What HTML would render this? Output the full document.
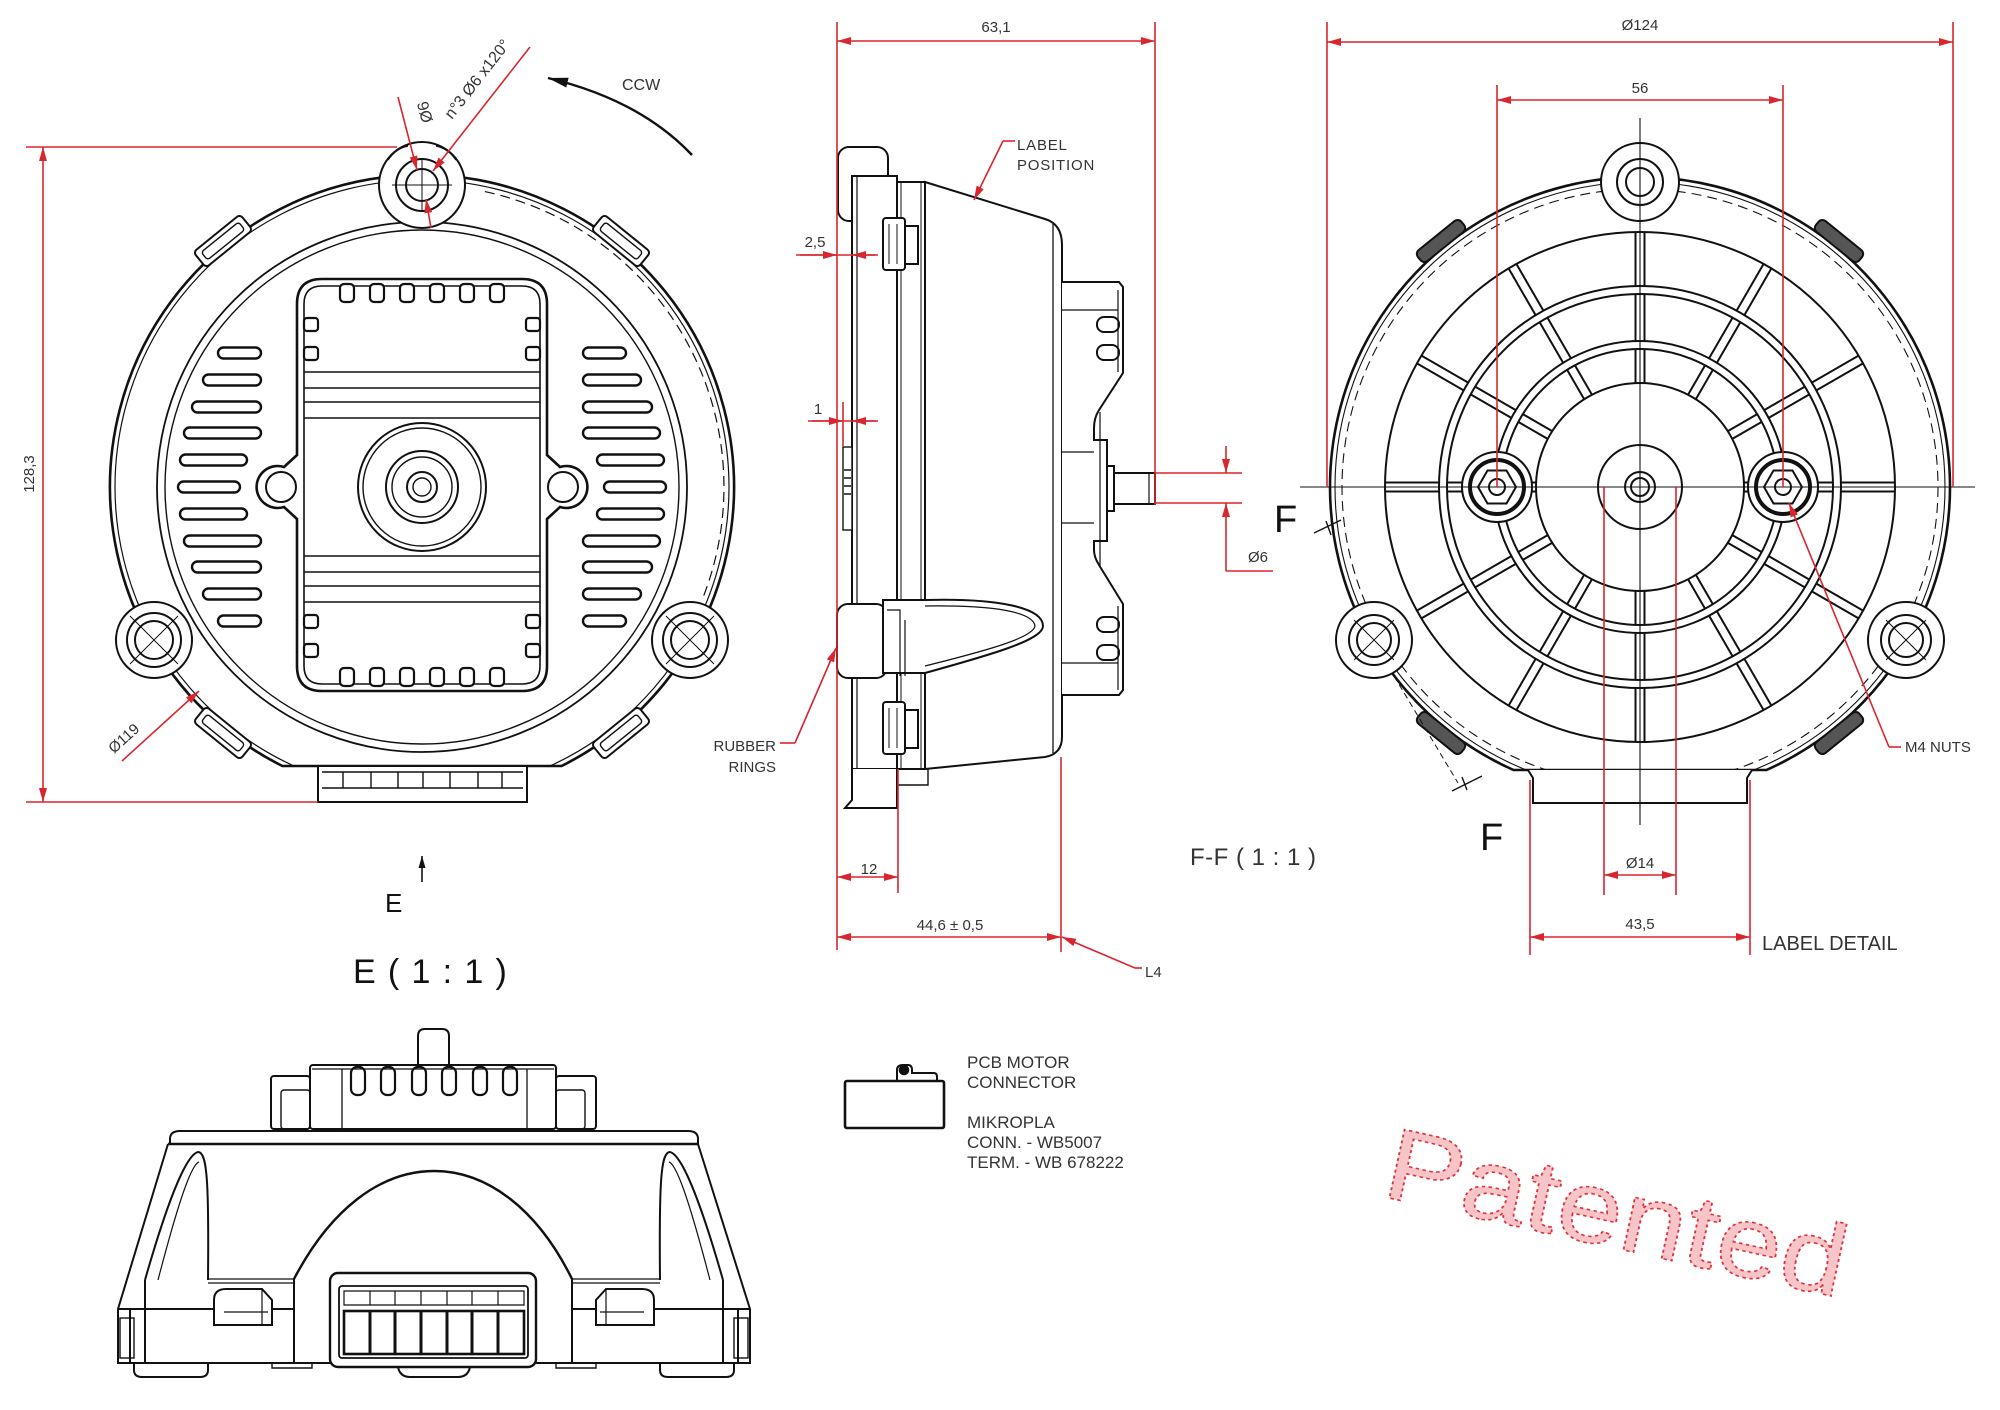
<!DOCTYPE html>
<html><head><meta charset="utf-8"><style>
html,body{margin:0;padding:0;background:#fff;}
svg{display:block;}
text{font-family:"Liberation Sans",Arial,sans-serif;fill:#333;}
</style></head><body>
<svg width="2000" height="1410" viewBox="0 0 2000 1410" xmlns="http://www.w3.org/2000/svg">
<defs>
<marker id="ar" viewBox="0 0 14 8" refX="14" refY="4" markerWidth="14" markerHeight="8" markerUnits="userSpaceOnUse" orient="auto-start-reverse"><path d="M0 0L14 4L0 8Z" fill="#d8262e"/></marker>
<marker id="ab" viewBox="0 0 20 10" refX="20" refY="5" markerWidth="20" markerHeight="10" markerUnits="userSpaceOnUse" orient="auto"><path d="M0 0L20 5L0 10Z" fill="#111"/></marker>
<marker id="ab2" viewBox="0 0 12 7" refX="12" refY="3.5" markerWidth="12" markerHeight="7" markerUnits="userSpaceOnUse" orient="auto"><path d="M0 0L12 3.5L0 7Z" fill="#111"/></marker>
<g id="spk" stroke="#111" stroke-width="2" fill="none">
<path d="M104 -4.5H138M104 4.5H138M146 -4.5H193M146 4.5H193M201 -4.5H255M201 4.5H255"/>
</g>
</defs>
<rect width="2000" height="1410" fill="#fff"/>

<!-- ================= FRONT VIEW ================= -->
<g stroke="#111" fill="none" stroke-width="2">
<path d="M282.4 766 A312 312 0 1 1 561.6 766 Z" fill="#fff" stroke-width="2.6"/>
<path d="M294 766 A307 307 0 1 1 550 766" stroke-width="1.2"/>
<path d="M484.8 191.6 A302 302 0 0 1 702 600" stroke-width="1.2" stroke-dasharray="10 6"/>
<circle cx="422" cy="487" r="265" stroke-width="1.8"/>
<circle cx="422" cy="487" r="257" stroke-width="1.4"/>
<rect x="318" y="766" width="209" height="36" fill="#fff"/>
<path d="M322 772H523M322 788H523M343 772V788M371 772V788M398 772V788M423 772V788M450 772V788M478 772V788M502 772V788" stroke-width="1.4"/>
<g transform="translate(223,241) rotate(-39)"><rect x="-30" y="-10" width="60" height="20" rx="4" fill="#fff"/><rect x="-24" y="-5" width="48" height="10" rx="3" stroke-width="1.4"/></g>
<g transform="translate(621,241) rotate(39)"><rect x="-30" y="-10" width="60" height="20" rx="4" fill="#fff"/><rect x="-24" y="-5" width="48" height="10" rx="3" stroke-width="1.4"/></g>
<g transform="translate(223,733) rotate(39)"><rect x="-30" y="-10" width="60" height="20" rx="4" fill="#fff"/><rect x="-24" y="-5" width="48" height="10" rx="3" stroke-width="1.4"/></g>
<g transform="translate(621,733) rotate(-39)"><rect x="-30" y="-10" width="60" height="20" rx="4" fill="#fff"/><rect x="-24" y="-5" width="48" height="10" rx="3" stroke-width="1.4"/></g>
<circle cx="422" cy="185" r="43" fill="#fff"/>
<path d="M388 160 Q396 148 408 146M456 160 Q448 148 436 146" stroke-width="1.4"/>
<circle cx="422" cy="185" r="26"/>
<circle cx="422" cy="185" r="16"/>
<path d="M392 185H452M422 160V212" stroke-width="1"/>
<circle cx="154" cy="640" r="38" fill="#fff"/>
<circle cx="154" cy="640" r="27"/>
<circle cx="154" cy="640" r="19"/>
<path d="M130 616L178 664M178 616L130 664" stroke-width="1"/>
<circle cx="690" cy="640" r="38" fill="#fff"/>
<circle cx="690" cy="640" r="27"/>
<circle cx="690" cy="640" r="19"/>
<path d="M666 616L714 664M714 616L666 664" stroke-width="1"/>
<path d="M322 279H522Q547 279 547 304V455L560 467A21 21 0 1 1 560 507L547 519V666Q547 691 522 691H322Q297 691 297 666V519L284 507A21 21 0 1 1 284 467L297 455V304Q297 279 322 279Z" stroke-width="2.6"/>
<path d="M322 286H522Q540 286 540 304V666Q540 684 522 684H322Q304 684 304 666V304Q304 286 322 286Z" stroke-width="1.6"/>
<circle cx="281" cy="487" r="15"/>
<circle cx="563" cy="487" r="15"/>
<g stroke-width="2.2" fill="#fff">
<rect x="340" y="284" width="14" height="18" rx="4"/><rect x="370" y="284" width="14" height="18" rx="4"/><rect x="400" y="284" width="14" height="18" rx="4"/><rect x="430" y="284" width="14" height="18" rx="4"/><rect x="460" y="284" width="14" height="18" rx="4"/><rect x="490" y="284" width="14" height="18" rx="4"/>
<rect x="340" y="668" width="14" height="18" rx="4"/><rect x="370" y="668" width="14" height="18" rx="4"/><rect x="400" y="668" width="14" height="18" rx="4"/><rect x="430" y="668" width="14" height="18" rx="4"/><rect x="460" y="668" width="14" height="18" rx="4"/><rect x="490" y="668" width="14" height="18" rx="4"/>
<rect x="304" y="318" width="14" height="13" rx="3"/><rect x="304" y="347" width="14" height="13" rx="3"/><rect x="304" y="615" width="14" height="13" rx="3"/><rect x="304" y="644" width="14" height="13" rx="3"/>
<rect x="526" y="318" width="14" height="13" rx="3"/><rect x="526" y="347" width="14" height="13" rx="3"/><rect x="526" y="615" width="14" height="13" rx="3"/><rect x="526" y="644" width="14" height="13" rx="3"/>
</g>
<path d="M304 372H540M304 388H540M304 402H540M304 418H540M304 556H540M304 572H540M304 586H540M304 602H540" stroke-width="1.4"/>
<circle cx="422" cy="487" r="64"/>
<circle cx="422" cy="487" r="59" stroke-width="1.4"/>
<circle cx="422" cy="487" r="36"/>
<circle cx="422" cy="487" r="30" stroke-width="1.4"/>
<circle cx="422" cy="487" r="15"/>
<circle cx="422" cy="487" r="9" stroke-width="1.4"/>
<g stroke-width="2.4">
<rect x="218" y="347.5" width="43" height="11" rx="5.5"/><rect x="203" y="374.5" width="58" height="11" rx="5.5"/><rect x="192" y="401.5" width="69" height="11" rx="5.5"/><rect x="184" y="427.5" width="77" height="11" rx="5.5"/><rect x="180" y="454.5" width="67" height="11" rx="5.5"/><rect x="178" y="481.5" width="62" height="11" rx="5.5"/><rect x="180" y="508.5" width="67" height="11" rx="5.5"/><rect x="184" y="535.5" width="77" height="11" rx="5.5"/><rect x="192" y="561.5" width="69" height="11" rx="5.5"/><rect x="203" y="588.5" width="58" height="11" rx="5.5"/><rect x="218" y="615.5" width="43" height="11" rx="5.5"/>
<rect x="583" y="347.5" width="43" height="11" rx="5.5"/><rect x="583" y="374.5" width="58" height="11" rx="5.5"/><rect x="583" y="401.5" width="69" height="11" rx="5.5"/><rect x="583" y="427.5" width="77" height="11" rx="5.5"/><rect x="597" y="454.5" width="67" height="11" rx="5.5"/><rect x="604" y="481.5" width="62" height="11" rx="5.5"/><rect x="597" y="508.5" width="67" height="11" rx="5.5"/><rect x="583" y="535.5" width="77" height="11" rx="5.5"/><rect x="583" y="561.5" width="69" height="11" rx="5.5"/><rect x="583" y="588.5" width="58" height="11" rx="5.5"/><rect x="583" y="615.5" width="43" height="11" rx="5.5"/>
</g>
<path d="M692 155 Q640 100 548 78" stroke-width="2.4" marker-end="url(#ab)"/>
<path d="M422 882V856" stroke-width="1.6" marker-end="url(#ab2)"/>
</g>
<g stroke="#d8262e" stroke-width="1.6" fill="none">
<path d="M26 147H397M26 802H318"/>
<line x1="43" y1="147" x2="43" y2="802" marker-start="url(#ar)" marker-end="url(#ar)"/>
<line x1="122" y1="761" x2="199" y2="691" marker-end="url(#ar)"/>
<line x1="398" y1="97" x2="417" y2="170" marker-end="url(#ar)"/>
<line x1="530" y1="47" x2="433" y2="171" marker-end="url(#ar)"/>
<line x1="431" y1="228" x2="426" y2="199" marker-end="url(#ar)"/>
</g>
<text x="0" y="0" font-size="15" text-anchor="middle" transform="translate(34,474) rotate(-90)">128,3</text>
<text x="0" y="0" font-size="15" transform="translate(114,754) rotate(-42)">Ø119</text>
<text x="0" y="0" font-size="16" transform="translate(433,121) rotate(-105)">Ø6</text>
<text x="0" y="0" font-size="16" transform="translate(452,120) rotate(-52)">n°3 Ø6 x120°</text>
<text x="622" y="90" font-size="16">CCW</text>
<text x="385" y="912" font-size="26" style="fill:#111">E</text>
<text x="353" y="983" font-size="34" letter-spacing="1.4" style="fill:#111">E ( 1 : 1 )</text>

<!-- ================= SIDE VIEW ================= -->
<g stroke="#111" fill="none" stroke-width="2">
<rect x="838" y="147" width="50" height="74" rx="11" fill="#fff"/>
<rect x="852" y="176" width="45" height="593" fill="#fff"/>
<path d="M857 176V769" stroke-width="1.2"/>
<rect x="897" y="182" width="28" height="587" fill="#fff"/>
<path d="M901 182V769M921 182V769" stroke-width="1"/>
<path d="M925 182L1045 219Q1062 224 1062 245V737Q1062 754 1045 757L925 769Z" fill="#fff"/>
<path d="M1053 224V753" stroke-width="1.3"/>
<path d="M1062 282H1119L1123 287V373L1099 410Q1094 418 1094 428V440H1107V541H1094V550Q1094 557 1099 565L1123 604V690L1119 695H1062" fill="#fff"/>
<path d="M1118 290V372M1118 606V690M1062 310H1118M1062 663H1118M1062 452H1094M1062 523H1094M1100 412V566" stroke-width="1.2"/>
<rect x="1097" y="317" width="22" height="15" rx="7"/><rect x="1097" y="345" width="22" height="15" rx="7"/>
<rect x="1097" y="617" width="22" height="15" rx="7"/><rect x="1097" y="645" width="22" height="15" rx="7"/>
<rect x="1107" y="466" width="7" height="45" fill="#fff"/>
<rect x="1114" y="473" width="41" height="31" fill="#fff"/>
<path d="M1149 473V504" stroke-width="1.2"/>
<rect x="837" y="604" width="50" height="74" rx="11" fill="#fff"/>
<path d="M883 600H925C1000 598 1043 608 1043 626C1043 640 990 655 925 673H883Z" fill="#fff"/>
<path d="M925 606C995 605 1033 612 1035 626C1033 638 985 651 925 666" stroke-width="1.2"/>
<path d="M887 610H900V676M905 620V676" stroke-width="1.2"/>
<rect x="883" y="218" width="22" height="52" rx="3" fill="#fff"/><rect x="905" y="226" width="13" height="38" fill="#fff"/>
<path d="M889 224V264M897 224V264" stroke-width="1"/>
<rect x="883" y="702" width="22" height="52" rx="3" fill="#fff"/><rect x="905" y="710" width="13" height="38" fill="#fff"/>
<path d="M889 708V748M897 708V748" stroke-width="1"/>
<path d="M852 769V800L845 808H897V769" fill="#fff"/>
<path d="M897 769H928V785H897" stroke-width="1.4"/>
<rect x="843" y="447" width="9" height="83" fill="#fff" stroke-width="1.4"/>
<path d="M844 470H851M844 478H851M844 486H851M844 494H851" stroke-width="1.5"/>
</g>
<g stroke="#d8262e" stroke-width="1.6" fill="none">
<path d="M837 22V950M1155 22V505M898 769V893M1061 757V952M1155 473H1242M1155 503H1242"/>
<line x1="837" y1="41" x2="1155" y2="41" marker-start="url(#ar)" marker-end="url(#ar)"/>
<path d="M796 255H878"/>
<line x1="800" y1="255" x2="837" y2="255" marker-end="url(#ar)"/>
<line x1="875" y1="255" x2="852" y2="255" marker-end="url(#ar)"/>
<path d="M808 421H878M843 402V446"/>
<line x1="812" y1="421" x2="843" y2="421" marker-end="url(#ar)"/>
<line x1="876" y1="421" x2="852" y2="421" marker-end="url(#ar)"/>
<line x1="1226" y1="446" x2="1226" y2="473" marker-end="url(#ar)"/>
<line x1="1226" y1="571" x2="1226" y2="503" marker-end="url(#ar)"/>
<path d="M1226 571H1273"/>
<line x1="837" y1="877" x2="898" y2="877" marker-start="url(#ar)" marker-end="url(#ar)"/>
<line x1="837" y1="937" x2="1061" y2="937" marker-start="url(#ar)" marker-end="url(#ar)"/>
<path d="M1135 968H1142"/>
<line x1="1135" y1="968" x2="1062" y2="937" marker-end="url(#ar)"/>
<path d="M1015 141H1003"/>
<line x1="1003" y1="141" x2="974" y2="200" marker-end="url(#ar)"/>
<path d="M780 743H795"/>
<line x1="795" y1="743" x2="836" y2="648" marker-end="url(#ar)"/>
</g>
<text x="996" y="32" font-size="15" text-anchor="middle">63,1</text>
<text x="815" y="247" font-size="15" text-anchor="middle">2,5</text>
<text x="818" y="414" font-size="15" text-anchor="middle">1</text>
<text x="1258" y="562" font-size="15" text-anchor="middle">Ø6</text>
<text x="869" y="874" font-size="15" text-anchor="middle">12</text>
<text x="950" y="930" font-size="15" text-anchor="middle">44,6 ± 0,5</text>
<text x="1145" y="977" font-size="15">L4</text>
<text x="1017" y="150" font-size="15" letter-spacing="0.8">LABEL</text>
<text x="1017" y="170" font-size="15" letter-spacing="0.8">POSITION</text>
<text x="776" y="751" font-size="15" text-anchor="end">RUBBER</text>
<text x="776" y="772" font-size="15" text-anchor="end">RINGS</text>
<text x="1190" y="865" font-size="24" letter-spacing="0.5">F-F ( 1 : 1 )</text>
<text x="1274" y="532" font-size="38" style="fill:#111">F</text>
<text x="1480" y="850" font-size="38" style="fill:#111">F</text>

<!-- ================= REAR VIEW ================= -->
<g stroke="#111" fill="none" stroke-width="2">
<path d="M1513.5 770A310 310 0 1 1 1766.5 770Z" fill="#fff" stroke-width="2.6"/>
<circle cx="1640" cy="487" r="305" stroke-width="1.1"/>
<circle cx="1640" cy="487" r="298" stroke-width="1.1" stroke-dasharray="10 6"/>
<path d="M1528 770L1533 778V803H1747V778L1752 770" fill="#fff"/>
<circle cx="1640" cy="487" r="255"/>
<circle cx="1640" cy="487" r="201"/>
<circle cx="1640" cy="487" r="193"/>
<circle cx="1640" cy="487" r="146"/>
<circle cx="1640" cy="487" r="138"/>
<circle cx="1640" cy="487" r="104"/>
<g transform="translate(1640,487)">
<use href="#spk"/>
<use href="#spk" transform="rotate(30)"/>
<use href="#spk" transform="rotate(60)"/>
<use href="#spk" transform="rotate(90)"/>
<use href="#spk" transform="rotate(120)"/>
<use href="#spk" transform="rotate(150)"/>
<use href="#spk" transform="rotate(180)"/>
<use href="#spk" transform="rotate(210)"/>
<use href="#spk" transform="rotate(240)"/>
<use href="#spk" transform="rotate(270)"/>
<use href="#spk" transform="rotate(300)"/>
<use href="#spk" transform="rotate(330)"/>
</g>
<g transform="translate(1441,241) rotate(-39)"><rect x="-28" y="-7" width="56" height="14" rx="5" fill="#555"/></g>
<g transform="translate(1839,241) rotate(39)"><rect x="-28" y="-7" width="56" height="14" rx="5" fill="#555"/></g>
<g transform="translate(1441,733) rotate(39)"><rect x="-28" y="-7" width="56" height="14" rx="5" fill="#555"/></g>
<g transform="translate(1839,733) rotate(-39)"><rect x="-28" y="-7" width="56" height="14" rx="5" fill="#555"/></g>
<circle cx="1640" cy="182" r="39" fill="#fff"/>
<circle cx="1640" cy="182" r="23"/>
<circle cx="1640" cy="182" r="14"/>
<circle cx="1374" cy="640" r="38" fill="#fff"/>
<circle cx="1374" cy="640" r="25"/>
<circle cx="1374" cy="640" r="17"/>
<path d="M1354 620L1394 660M1394 620L1354 660" stroke-width="1"/>
<circle cx="1906" cy="640" r="38" fill="#fff"/>
<circle cx="1906" cy="640" r="25"/>
<circle cx="1906" cy="640" r="17"/>
<path d="M1886 620L1926 660M1926 620L1886 660" stroke-width="1"/>
<circle cx="1497" cy="487" r="35" fill="#fff"/>
<circle cx="1497" cy="487" r="27" stroke-width="4"/>
<path d="M1478 487L1487.5 470.5H1506.5L1516 487L1506.5 503.5H1487.5Z"/>
<circle cx="1497" cy="487" r="8"/>
<circle cx="1783" cy="487" r="35" fill="#fff"/>
<circle cx="1783" cy="487" r="27" stroke-width="4"/>
<path d="M1764 487L1773.5 470.5H1792.5L1802 487L1792.5 503.5H1773.5Z"/>
<circle cx="1783" cy="487" r="8"/>
<circle cx="1640" cy="487" r="42" fill="#fff"/>
<circle cx="1640" cy="487" r="15"/>
<circle cx="1640" cy="487" r="9"/>
<path d="M1300 487H1975M1640 118V825" stroke-width="1.1"/>
<path d="M1314 533L1341 520M1326 521L1331 535M1452 791L1482 776M1462 777L1467 790" stroke-width="1.4"/>
<path d="M1394 676L1458 783" stroke-width="1" stroke-dasharray="6 4"/>
</g>
<g stroke="#d8262e" stroke-width="1.6" fill="none">
<path d="M1327 22V487M1953 22V487M1497 85V487M1783 85V487M1604 487V895M1676 487V895M1530 780V955M1750 780V955"/>
<line x1="1327" y1="42" x2="1953" y2="42" marker-start="url(#ar)" marker-end="url(#ar)"/>
<line x1="1497" y1="100" x2="1783" y2="100" marker-start="url(#ar)" marker-end="url(#ar)"/>
<line x1="1604" y1="875" x2="1676" y2="875" marker-start="url(#ar)" marker-end="url(#ar)"/>
<line x1="1530" y1="937" x2="1750" y2="937" marker-start="url(#ar)" marker-end="url(#ar)"/>
<path d="M1901 747H1889"/>
<line x1="1889" y1="747" x2="1789" y2="503" marker-end="url(#ar)"/>
</g>
<text x="1640" y="30" font-size="15" text-anchor="middle">Ø124</text>
<text x="1640" y="93" font-size="15" text-anchor="middle">56</text>
<text x="1640" y="868" font-size="15" text-anchor="middle">Ø14</text>
<text x="1640" y="929" font-size="15" text-anchor="middle">43,5</text>
<text x="1905" y="752" font-size="15">M4 NUTS</text>
<text x="1762" y="950" font-size="20">LABEL DETAIL</text>

<!-- ================= E VIEW ================= -->
<g stroke="#111" fill="none" stroke-width="2">
<path d="M418 1065V1036Q418 1029 425 1029H442Q449 1029 449 1036V1065" fill="#fff"/>
<rect x="271" y="1076" width="39" height="53" rx="3" fill="#fff"/>
<rect x="281" y="1090" width="29" height="39" rx="3" stroke-width="1.4"/>
<rect x="556" y="1076" width="40" height="53" rx="3" fill="#fff"/>
<rect x="556" y="1090" width="29" height="39" rx="3" stroke-width="1.4"/>
<rect x="310" y="1065" width="246" height="64" rx="3" fill="#fff"/>
<path d="M312 1069H554M342 1069V1129M527 1069V1129" stroke-width="1.3"/>
<g stroke-width="2.2">
<rect x="351" y="1067" width="14" height="28" rx="6"/><rect x="381" y="1067" width="14" height="28" rx="6"/><rect x="412" y="1067" width="14" height="28" rx="6"/><rect x="442" y="1067" width="14" height="28" rx="6"/><rect x="473" y="1067" width="14" height="28" rx="6"/><rect x="503" y="1067" width="14" height="28" rx="6"/>
</g>
<path d="M170 1144V1139Q170 1131 180 1131H688Q698 1131 698 1139V1144Z" fill="#fff"/>
<path d="M168 1144L118 1309V1363H750V1309L698 1144" fill="#fff"/>
<path d="M168 1144H698" stroke-width="2.6"/>
<path d="M145 1280C165 1210 185 1155 198 1152C207 1152 209 1180 208 1280" />
<path d="M158 1280C175 1215 190 1165 199 1162" stroke-width="1.2"/>
<path d="M723 1280C703 1210 683 1155 670 1152C661 1152 659 1180 660 1280"/>
<path d="M710 1280C693 1215 678 1165 669 1162" stroke-width="1.2"/>
<path d="M145 1280V1363M130 1309V1363M723 1280V1363M738 1309V1363"/>
<path d="M208 1279H294M572 1279H660M208 1283H294M572 1283H660" stroke-width="1.2"/>
<path d="M294 1279C330 1210 380 1171 434 1171C488 1171 538 1210 572 1279" stroke-width="2.4"/>
<path d="M294 1279V1363M572 1279V1363M118 1309H294M572 1309H750"/>
<rect x="330" y="1273" width="206" height="94" rx="8" fill="#fff" stroke-width="2.4"/>
<rect x="339" y="1286" width="189" height="72" rx="3" stroke-width="1.8"/>
<path d="M344 1291H524V1305H344ZM370 1291V1305M395 1291V1305M421 1291V1305M447 1291V1305M472 1291V1305M498 1291V1305" stroke-width="1.2"/>
<rect x="344" y="1311" width="180" height="43" stroke-width="2.6"/>
<path d="M370 1311V1354M395 1311V1354M421 1311V1354M447 1311V1354M472 1311V1354M498 1311V1354" stroke-width="3"/>
<path d="M214 1325V1300Q214 1289 226 1289H262L272 1300V1325Z" fill="#fff"/>
<path d="M224 1312H268M262 1289V1325" stroke-width="1.2"/>
<path d="M654 1325V1300Q654 1289 642 1289H606L596 1300V1325Z" fill="#fff"/>
<path d="M644 1312H600M606 1289V1325" stroke-width="1.2"/>
<path d="M134 1363V1370Q134 1377 142 1377H200Q208 1377 208 1370V1363"/>
<path d="M660 1363V1370Q660 1377 668 1377H726Q734 1377 734 1370V1363"/>
<path d="M398 1367Q400 1377 410 1377H458Q468 1377 470 1367"/>
<path d="M272 1363V1368H312V1363M556 1363V1368H596V1363" stroke-width="1.4"/>
<rect x="120" y="1318" width="14" height="40" stroke-width="1.4"/>
<rect x="734" y="1318" width="14" height="40" stroke-width="1.4"/>
</g>

<!-- ================= PCB CONNECTOR ================= -->
<g stroke="#111" fill="none" stroke-width="2.6">
<rect x="845" y="1081" width="99" height="47" rx="2" fill="#fff"/>
<path d="M897 1081V1070Q897 1065 903 1065H908Q912 1065 912 1070V1073H934Q937 1073 937 1077V1081" stroke-width="2"/>
<circle cx="904" cy="1070" r="4" fill="#111"/>
</g>
<text x="967" y="1068" font-size="17">PCB MOTOR</text>
<text x="967" y="1088" font-size="17">CONNECTOR</text>
<text x="967" y="1128" font-size="17">MIKROPLA</text>
<text x="967" y="1148" font-size="17">CONN. - WB5007</text>
<text x="967" y="1168" font-size="17">TERM. - WB 678222</text>

<!-- ================= PATENTED ================= -->
<text x="0" y="0" font-size="102" transform="translate(1380,1196) rotate(12.5) scale(1.15,1)" style="fill:#f7c4c8;stroke:#e0323c;stroke-width:1.6;stroke-dasharray:3 3">Patented</text>
</svg>
</body></html>
